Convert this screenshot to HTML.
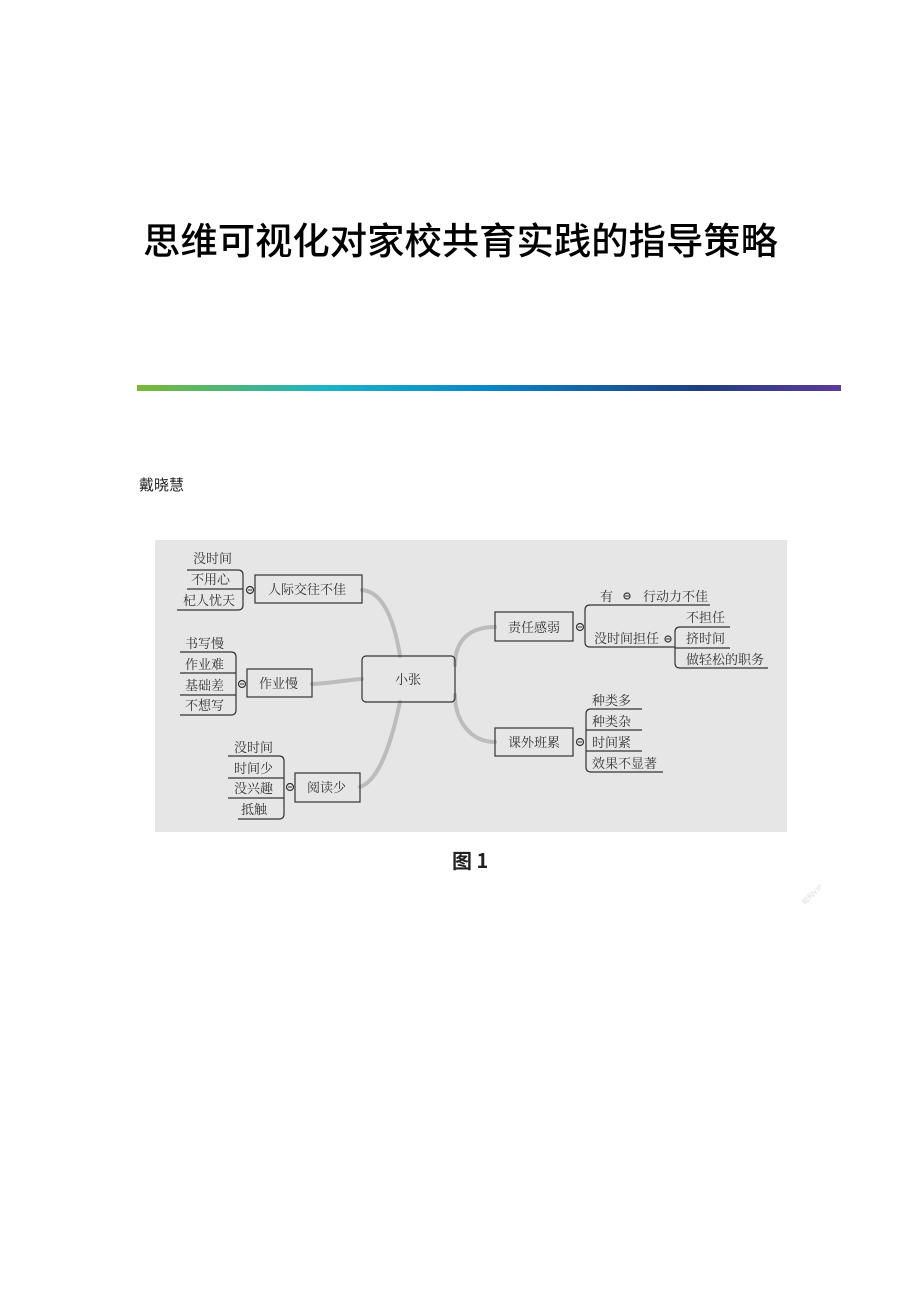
<!DOCTYPE html>
<html><head><meta charset="utf-8"><style>
html,body{margin:0;padding:0;background:#fff}
svg{display:block}
.t{font-family:"Liberation Serif","Noto Serif CJK SC",serif;font-size:13px;fill:#333}
</style></head><body>
<svg width="920" height="1302" viewBox="0 0 920 1302" xmlns="http://www.w3.org/2000/svg">
<defs><linearGradient id="g" x1="0" x2="1" y1="0" y2="0">
<stop offset="0" stop-color="#7ab833"/><stop offset="0.27" stop-color="#1bb3c6"/><stop offset="0.5" stop-color="#0a86c9"/><stop offset="0.8" stop-color="#1e3f7e"/><stop offset="1" stop-color="#5e3a98"/></linearGradient></defs>
<text x="143" y="254" font-family="'Noto Sans CJK SC',sans-serif" font-size="37" font-weight="500" textLength="635" lengthAdjust="spacingAndGlyphs" fill="#000">思维可视化对家校共育实践的指导策略</text>
<rect x="137" y="385" width="704" height="6" fill="url(#g)"/>
<text x="139" y="490" font-family="'Noto Sans CJK SC',sans-serif" font-size="15" fill="#222">戴晓慧</text>
<rect x="155" y="540" width="632" height="292" fill="#e6e6e6"/>
<g fill="none" stroke="#bcbcbc" stroke-linecap="round">
<path d="M362 590 C385 592 395 625 400 656" stroke-width="4"/>
<path d="M312 684 C335 683 345 680 362 679" stroke-width="4"/>
<path d="M360 787 C380 780 392 740 400 702" stroke-width="4"/>
<path d="M495 627 C470 627 455 640 455 665" stroke-width="4"/>
<path d="M495 742 C470 742 455 720 455 695" stroke-width="4"/>
</g>
<g fill="none" stroke="#333" stroke-width="1.2">
<rect x="255" y="575" width="107" height="28"/>
<rect x="247" y="669" width="65" height="28"/>
<rect x="295" y="773" width="65" height="29"/>
<rect x="362" y="656" width="93" height="46" rx="4"/>
<rect x="495" y="612" width="78" height="29"/>
<rect x="495" y="728" width="78" height="28"/>
<circle cx="250" cy="590" r="3.5"/><circle cx="242" cy="684" r="3.5"/><circle cx="290" cy="787" r="3.5"/>
<circle cx="580" cy="627" r="3.5"/><circle cx="580" cy="742" r="3.5"/>
<circle cx="627" cy="596" r="3"/><circle cx="668" cy="639" r="3"/>
<path d="M187 570 H238 Q243 570 243 575 V605 Q243 610 238 610 H177 M187 589 H243"/>
<path d="M180 652 H231 Q236 652 236 657 V710 Q236 715 231 715 H180 M180 673 H236 M180 695 H236"/>
<path d="M228 756 H279 Q284 756 284 761 V814 Q284 819 279 819 H238 M228 778 H284 M228 798 H284"/>
<path d="M710 605 H590 Q585 605 585 610 V642 Q585 647 590 647 H675"/>
<path d="M730 627 H680 Q675 627 675 632 V663 Q675 668 680 668 H768 M675 648 H730"/>
<path d="M642 709 H591 Q586 709 586 714 V767 Q586 772 591 772 H663 M586 730 H642 M586 751 H642"/>
</g>
<g fill="#333"><rect x="625" y="595.5" width="4" height="1"/><rect x="666" y="638.5" width="4" height="1"/></g>
<g stroke="#333" stroke-width="1"><line x1="248" y1="590" x2="252" y2="590"/><line x1="240" y1="684" x2="244" y2="684"/><line x1="288" y1="787" x2="292" y2="787"/><line x1="578" y1="627" x2="582" y2="627"/><line x1="578" y1="742" x2="582" y2="742"/></g>
<g class="t">
<text x="193" y="563">没时间</text><text x="191" y="584">不用心</text><text x="183" y="605">杞人忧天</text>
<text x="268" y="594">人际交往不佳</text>
<text x="185" y="648">书写慢</text><text x="185" y="669">作业难</text><text x="185" y="690">基础差</text><text x="185" y="710">不想写</text>
<text x="259" y="688">作业慢</text>
<text x="395" y="684">小张</text>
<text x="234" y="752">没时间</text><text x="234" y="773">时间少</text><text x="234" y="793">没兴趣</text><text x="241" y="814">抵触</text>
<text x="307" y="792">阅读少</text>
<text x="508" y="632">责任感弱</text>
<text x="600" y="601">有</text><text x="643" y="601">行动力不佳</text>
<text x="594" y="643">没时间担任</text>
<text x="686" y="622">不担任</text><text x="686" y="643">挤时间</text><text x="686" y="664">做轻松的职务</text>
<text x="508" y="747">课外班累</text>
<text x="592" y="705">种类多</text><text x="592" y="726">种类杂</text><text x="592" y="747">时间紧</text><text x="592" y="768">效果不显著</text>
</g>
<text x="452" y="868" font-family="'Noto Sans CJK SC',sans-serif" font-size="20" font-weight="bold" fill="#222">图 1</text>
<text x="805" y="905" font-family="'Liberation Sans',sans-serif" font-size="7" fill="#ddd" transform="rotate(-45 805 905)">稻构VIP</text>
</svg>
</body></html>
